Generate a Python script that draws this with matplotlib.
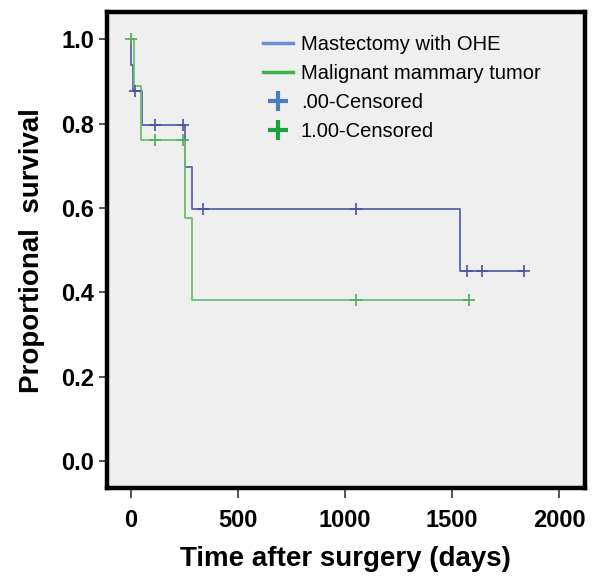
import numpy as np
import matplotlib.pyplot as plt
from matplotlib.lines import Line2D

# Kaplan-Meier curves
ohe_times = [0, 3, 11, 52, 255, 287, 1537, 1838]
ohe_surv = [1.0, 0.938, 0.877, 0.796, 0.697, 0.597, 0.450, 0.450]
ohe_censored = [22, 112, 245, 338, 1050, 1572, 1640, 1838]

tumor_times = [0, 14, 50, 252, 287, 1581]
tumor_surv = [1.0, 0.889, 0.762, 0.575, 0.381, 0.381]
tumor_censored = [2, 112, 245, 1050, 1581]

x_ticks = [0, 500, 1000, 1500, 2000]
y_ticks = [0.0, 0.2, 0.4, 0.6, 0.8, 1.0]

FONT = ['Liberation Sans', 'DejaVu Sans']


def surv_at(times, surv, t):
    idx = np.searchsorted(times, t, side='right') - 1
    return np.array(surv)[idx]


fig = plt.figure(figsize=(6.1, 5.79), dpi=100)
ax = fig.add_axes([0.175, 0.157, 0.784, 0.822])
ax.set_facecolor('#efefef')

ax.step(ohe_times, ohe_surv, where='post', color='#5a63ad', lw=1.3)
ax.step(tumor_times, tumor_surv, where='post', color='#6cc070', lw=1.3)
ax.plot(ohe_censored, surv_at(ohe_times, ohe_surv, ohe_censored), ls='none',
        marker='+', ms=8, mew=1.2, color='#4b52a0')
ax.plot(tumor_censored, surv_at(tumor_times, tumor_surv, tumor_censored), ls='none',
        marker='+', ms=8, mew=1.2, color='#4cae55')

ax.set_xlim(-112, 2121)
ax.set_ylim(-0.064, 1.064)
ax.set_xticks(x_ticks)
ax.set_yticks(y_ticks)
ax.set_xticklabels([str(v) for v in x_ticks], family=FONT, fontsize=17, fontweight='bold')
ax.set_yticklabels(['%.1f' % v for v in y_ticks], family=FONT, fontsize=17, fontweight='bold')
ax.tick_params(axis='x', direction='out', length=7, width=1.3, color='#444444', pad=8)
ax.tick_params(axis='y', direction='out', length=6, width=1.3, color='#444444', pad=3)

for s in ax.spines.values():
    s.set_linewidth(3.2)
    s.set_color('black')

ax.set_xlabel('Time after surgery (days)', family=FONT, fontsize=20,
              fontweight='bold', labelpad=10)
ax.set_ylabel('Proportional  survival', family=FONT, fontsize=20,
              fontweight='bold', labelpad=12)

handles = [
    Line2D([], [], color='#6b8fd4', lw=2.5),
    Line2D([], [], color='#3cb54a', lw=2.5),
    Line2D([], [], color='#4a7cc0', ls='none', marker='+', ms=14, mew=3),
    Line2D([], [], color='#1aa040', ls='none', marker='+', ms=14, mew=3),
]
labels = ['Mastectomy with OHE', 'Malignant mammary tumor',
          '.00-Censored', '1.00-Censored']
ax.legend(handles, labels, loc='upper left', bbox_to_anchor=(0.288, 0.99),
          frameon=False, prop={'family': FONT, 'size': 14.5},
          handlelength=1.5, handletextpad=0.4, labelspacing=0.5)

plt.savefig('out.png', dpi=100)
